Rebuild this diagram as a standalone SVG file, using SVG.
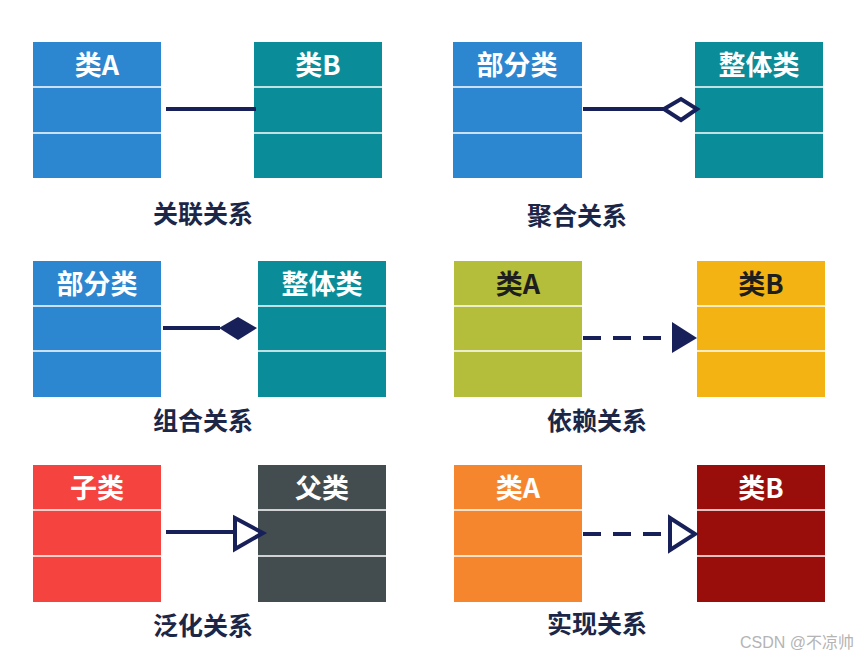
<svg xmlns="http://www.w3.org/2000/svg" width="858" height="656" viewBox="0 0 858 656">
<style>
.sep{stroke:#ffffff;stroke-opacity:0.75;stroke-width:2}
.hd{font-family:"Noto Sans CJK SC","Liberation Sans",sans-serif;font-weight:bold;font-size:27px;text-anchor:middle;fill:#ffffff}
.hd.dk{fill:#1e1e1e}
.lb{font-family:"Noto Sans CJK SC","Liberation Sans",sans-serif;font-weight:bold;font-size:25px;text-anchor:middle;fill:#1c2748}
.ln{stroke:#18205a;stroke-width:4;fill:none}
.dash{stroke-dasharray:18 12}
.wm{font-family:"Liberation Sans","Noto Sans CJK SC",sans-serif;font-size:16px;fill:#b4b4b4;text-anchor:end}
</style>
<rect width="858" height="656" fill="#ffffff"/>

<g id="assoc-A"><rect x="33" y="42" width="128" height="136" fill="#2d86d0"/><line class="sep" x1="33" y1="87" x2="161" y2="87"/><line class="sep" x1="33" y1="133" x2="161" y2="133"/><text class="hd" x="97" y="75">类A</text></g>
<g id="assoc-B"><rect x="254" y="42" width="128" height="136" fill="#0b8d99"/><line class="sep" x1="254" y1="87" x2="382" y2="87"/><line class="sep" x1="254" y1="133" x2="382" y2="133"/><text class="hd" x="318" y="75">类B</text></g>
<text class="lb" x="203" y="223">关联关系</text>

<g id="aggr-part"><rect x="453" y="42" width="129" height="136" fill="#2d86d0"/><line class="sep" x1="453" y1="87" x2="582" y2="87"/><line class="sep" x1="453" y1="133" x2="582" y2="133"/><text class="hd" x="517" y="75">部分类</text></g>
<g id="aggr-whole"><rect x="695" y="42" width="128" height="136" fill="#0b8d99"/><line class="sep" x1="695" y1="87" x2="823" y2="87"/><line class="sep" x1="695" y1="133" x2="823" y2="133"/><text class="hd" x="759" y="75">整体类</text></g>
<text class="lb" x="577" y="225">聚合关系</text>

<g id="comp-part"><rect x="33" y="261" width="128" height="136" fill="#2d86d0"/><line class="sep" x1="33" y1="306" x2="161" y2="306"/><line class="sep" x1="33" y1="351" x2="161" y2="351"/><text class="hd" x="97" y="294">部分类</text></g>
<g id="comp-whole"><rect x="258" y="261" width="128" height="136" fill="#0b8d99"/><line class="sep" x1="258" y1="306" x2="386" y2="306"/><line class="sep" x1="258" y1="351" x2="386" y2="351"/><text class="hd" x="322" y="294">整体类</text></g>
<text class="lb" x="203" y="430">组合关系</text>

<g id="dep-A"><rect x="454" y="261" width="128" height="136" fill="#b5be3b"/><line class="sep" x1="454" y1="306" x2="582" y2="306"/><line class="sep" x1="454" y1="351" x2="582" y2="351"/><text class="hd dk" x="518" y="294">类A</text></g>
<g id="dep-B"><rect x="697" y="261" width="128" height="136" fill="#f3b312"/><line class="sep" x1="697" y1="306" x2="825" y2="306"/><line class="sep" x1="697" y1="351" x2="825" y2="351"/><text class="hd dk" x="761" y="294">类B</text></g>
<text class="lb" x="597" y="430">依赖关系</text>

<g id="gen-child"><rect x="33" y="465" width="128" height="137" fill="#f5433f"/><line class="sep" x1="33" y1="510" x2="161" y2="510"/><line class="sep" x1="33" y1="556" x2="161" y2="556"/><text class="hd" x="97" y="498">子类</text></g>
<g id="gen-parent"><rect x="258" y="465" width="128" height="137" fill="#434d50"/><line class="sep" x1="258" y1="510" x2="386" y2="510"/><line class="sep" x1="258" y1="556" x2="386" y2="556"/><text class="hd" x="322" y="498">父类</text></g>
<text class="lb" x="203" y="635">泛化关系</text>

<g id="real-A"><rect x="454" y="465" width="128" height="137" fill="#f5862d"/><line class="sep" x1="454" y1="510" x2="582" y2="510"/><line class="sep" x1="454" y1="556" x2="582" y2="556"/><text class="hd" x="518" y="498">类A</text></g>
<g id="real-B"><rect x="697" y="465" width="128" height="137" fill="#990e0b"/><line class="sep" x1="697" y1="510" x2="825" y2="510"/><line class="sep" x1="697" y1="556" x2="825" y2="556"/><text class="hd" x="761" y="498">类B</text></g>
<text class="lb" x="597" y="633">实现关系</text>

<g id="connectors">
<line class="ln" x1="166" y1="109" x2="256" y2="109"/>
<line class="ln" x1="583" y1="109" x2="664" y2="109"/>
<polygon class="ln" stroke-width="3.5" points="664,109 681,99 697,109 681,120"/>
<line class="ln" x1="163" y1="328" x2="220" y2="328"/>
<polygon points="219,328 238,317 257,328 238,340" fill="#18205a"/>
<line class="ln dash" x1="583" y1="338" x2="673" y2="338"/>
<polygon points="672,322 697,338 672,353" fill="#18205a"/>
<line class="ln" x1="166" y1="532" x2="234" y2="532"/>
<polygon class="ln" stroke-width="3.5" points="235,518 263,533 235,549"/>
<line class="ln dash" x1="583" y1="534" x2="669" y2="534"/>
<polygon class="ln" stroke-width="3.5" points="670,518 695,534 670,550"/>
</g>

<text class="wm" x="854" y="648">CSDN @不凉帅</text>
</svg>
